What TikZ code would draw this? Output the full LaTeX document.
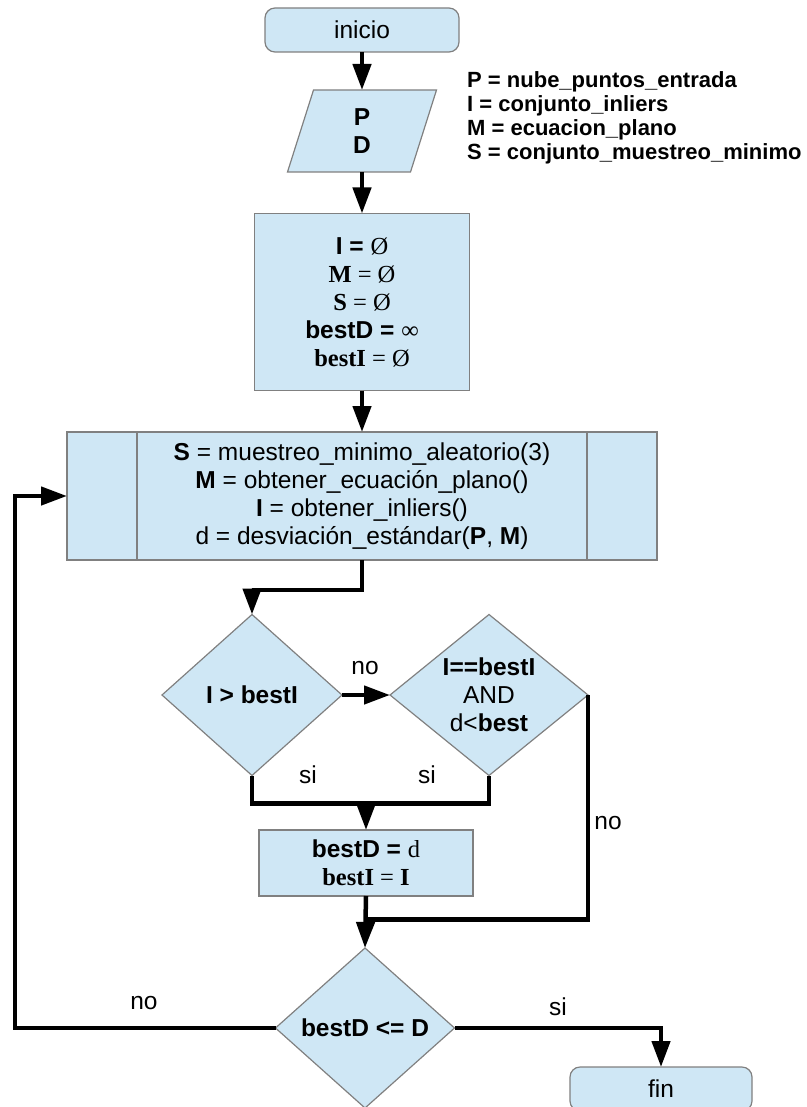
\documentclass[tikz,border=0pt]{standalone}
\usepackage{fontspec}
\setmainfont{Liberation Sans}
\newfontfamily\serifpart{Liberation Serif}
\usetikzlibrary{shapes.geometric,arrows.meta,calc,backgrounds}
\definecolor{boxfill}{RGB}{207,231,245}
\definecolor{boxedge}{RGB}{128,128,128}
\begin{document}
\begin{tikzpicture}[x=1pt,y=-1pt,
  txt/.style={font=\fontsize{24.5}{28}\selectfont, align=center},
  blk/.style={txt, draw=boxedge, line width=1.2pt, fill=boxfill, inner sep=0pt, outer sep=0pt},
  termbox/.style={blk, rectangle, rounded corners=10pt},
  procbox/.style={blk, rectangle},
  iotext/.style={txt, rectangle, inner sep=0pt, outer sep=0pt},
  ioshape/.style={draw=boxedge, line width=1.2pt, fill=boxfill},
  decision/.style={blk, diamond},
  conn/.style={line width=4.5pt, -{Triangle[length=26pt,width=18pt]}},
  wire/.style={line width=4.5pt},
  lbl/.style={font=\fontsize{24.5}{28}\selectfont, inner sep=0pt},
  sideline/.style={draw=boxedge, line width=1.2pt},
]
\useasboundingbox (0,0) rectangle (806,1107);
\clip (0,0) rectangle (806,1107);

% blocks
\node[termbox, minimum width=194pt, minimum height=44pt] (start) at (362,30) {inicio};

% data block: parallelogram drawn behind its text node
\node[iotext, minimum width=123pt, minimum height=82pt] (io) at (362,131) {\textbf{P}\\\textbf{D}};
\begin{scope}[on background layer]
  \draw[ioshape] ([xshift=13pt]io.north west) -- ([xshift=13pt]io.north east)
    -- ([xshift=-13pt]io.south east) -- ([xshift=-13pt]io.south west) -- cycle;
\end{scope}

\node[procbox, minimum width=215pt, minimum height=177pt] (init) at (362,302)
  {\textbf{I =} {\serifpart Ø}\\
   {\serifpart\textbf{M} = Ø}\\
   {\serifpart\textbf{S} = Ø}\\
   \textbf{bestD =} {\serifpart ∞}\\
   {\serifpart\textbf{bestI} = Ø}};
\node[procbox, minimum width=590pt, minimum height=128pt] (iter) at (362,496)
  {\textbf{S} = muestreo\_minimo\_aleatorio(3)\\
   \textbf{M} = obtener\_ecuación\_plano()\\
   \textbf{I} = obtener\_inliers()\\
   d = desviación\_estándar(\textbf{P}, \textbf{M})};
\draw[sideline] ([xshift=70pt]iter.north west) -- ([xshift=70pt]iter.south west);
\draw[sideline] ([xshift=-70pt]iter.north east) -- ([xshift=-70pt]iter.south east);

\node[decision, minimum width=180pt, minimum height=161pt] (d1) at (252,695) {\textbf{I > bestI}};
\node[decision, aspect=1.2, minimum width=198pt, minimum height=161pt] (d2) at (489,695)
  {\textbf{I==bestI}\\AND\\d<\textbf{best}};
\node[procbox, minimum width=214pt, minimum height=66pt] (upd) at (366,863)
  {\textbf{bestD =} {\serifpart d}\\
   {\serifpart\textbf{bestI} = \textbf{I}}};
\node[decision, minimum width=179pt, minimum height=160pt] (d3) at (365,1028) {\textbf{bestD <= D}};
\node[termbox, minimum width=182pt, minimum height=44pt] (stop) at (661,1089) {fin};

% legend
\node[font=\bfseries\fontsize{22}{24}\selectfont, align=left, anchor=west, inner sep=0pt] (legend) at (467,118)
  {P = nube\_puntos\_entrada\\
   I = conjunto\_inliers\\
   M = ecuacion\_plano\\
   S = conjunto\_muestreo\_minimo};

% connectors
\draw[conn] (start) -- (io);
\draw[conn] (io) -- (init);
\draw[conn] (init) -- (iter);
\draw[conn] (iter.south) -- ++(0,30) -| (d1.north);
\draw[conn] (d1.east) -- (d2.west);
\draw[wire] (d1.south) -- ++(0,28) coordinate (jl) -| (d2.south);
\draw[conn] (upd.north |- jl) -- (upd.north);
\draw[wire] (d2.east) |- ($(upd.south)!0.45!(d3.north)$);
\draw[conn] (upd.south) -- (d3.north);
\draw[conn] (d3.west) -| ([xshift=-52pt]iter.west) -- (iter.west);
\draw[conn] (d3.east) -| (stop.north);

% branch labels
\node[lbl] (l1) at (365,668) {no};
\node[lbl] (l2) at (308,775) {si};
\node[lbl] (l3) at (427,775) {si};
\node[lbl] (l4) at (608,823) {no};
\node[lbl] (l5) at (144,1003) {no};
\node[lbl] (l6) at (558,1007) {si};
\end{tikzpicture}
\end{document}
